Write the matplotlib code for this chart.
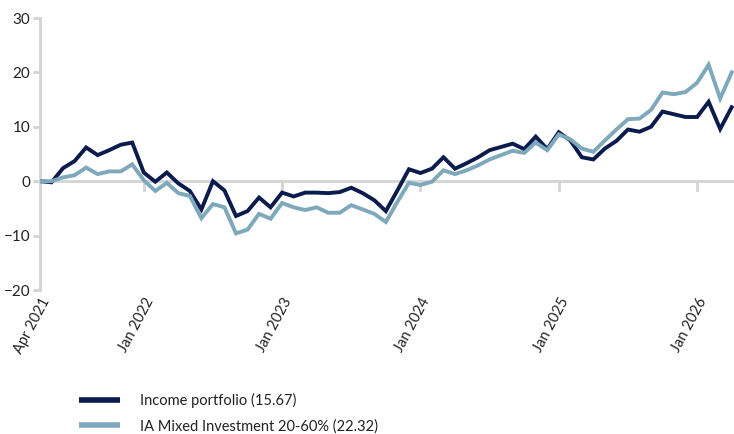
import matplotlib
matplotlib.use('Agg')
import matplotlib.pyplot as plt
import numpy as np

# monthly cumulative performance (%), Apr 2021 .. Apr 2026
income = [0.0, -0.2, 2.4, 3.7, 6.2, 4.8, 5.7, 6.7, 7.1, 1.6,
          -0.1, 1.6, -0.4, -1.8, -5.2, 0.0, -1.7, -6.4, -5.5, -3.0,
          -4.8, -2.1, -2.8, -2.1, -2.1, -2.2, -2.0, -1.2, -2.2, -3.5,
          -5.5, -1.7, 2.2, 1.5, 2.3, 4.4, 2.3, 3.3, 4.4, 5.7,
          6.3, 6.9, 5.9, 8.2, 5.9, 9.0, 7.5, 4.4, 4.0, 6.0,
          7.4, 9.5, 9.1, 10.0, 12.8, 12.3, 11.8, 11.8, 14.6, 9.6,
          13.6]
sector = [0.0, 0.0, 0.7, 1.1, 2.5, 1.3, 1.8, 1.8, 3.1, 0.2,
          -1.8, -0.3, -2.2, -2.7, -6.8, -4.2, -4.8, -9.6, -8.9, -6.0,
          -6.9, -4.0, -4.8, -5.3, -4.8, -5.8, -5.8, -4.4, -5.2, -6.0,
          -7.5, -3.8, -0.3, -0.7, -0.1, 2.0, 1.3, 2.0, 2.9, 4.0,
          4.8, 5.6, 5.2, 7.1, 5.7, 8.6, 7.7, 6.0, 5.4, 7.5,
          9.5, 11.4, 11.5, 13.1, 16.3, 16.0, 16.4, 18.1, 21.4, 15.2,
          20.0]
tick_pos = [0, 9, 21, 33, 45, 57]
tick_labels = ['Apr 2021', 'Jan 2022', 'Jan 2023', 'Jan 2024', 'Jan 2025', 'Jan 2026']
y_ticks = [30, 20, 10, 0, -10, -20]
names = ['Income portfolio (15.67)', 'IA Mixed Investment 20-60% (22.32)']

dark = '#0b1b4d'
light = '#7ea8bb'
grey = '#d4d4d4'
txt = '#222222'

plt.rcParams['font.family'] = ['Lato', 'DejaVu Sans']

fig = plt.figure(figsize=(7.34, 4.34), dpi=100)
ax = fig.add_axes([40 / 734, 144 / 434, 1 - 40 / 734, (290 - 18) / 434])

x = np.arange(len(income))
l1, = ax.plot(x, income, color=dark, lw=2.8, solid_joinstyle='miter', zorder=3)
l2, = ax.plot(x, sector, color=light, lw=2.8, solid_joinstyle='miter', zorder=3)

ax.set_xlim(0, 60.2)
ax.set_ylim(-20, 30)

# zero line with small year ticks hanging off it
ax.axhline(0, color=grey, lw=2, zorder=1)
for p in tick_pos[1:]:
    ax.plot([p, p], [0, -1.6], color=grey, lw=2, zorder=1)

for s in ['top', 'right', 'bottom']:
    ax.spines[s].set_visible(False)
ax.spines['left'].set_color(grey)
ax.spines['left'].set_linewidth(2)

ax.set_yticks(y_ticks)
ax.tick_params(axis='y', colors=grey, length=5, width=2, labelsize=11,
               labelcolor=txt, pad=2)

ax.set_xticks(tick_pos)
ax.set_xticklabels(tick_labels, rotation=62, ha='right', va='top',
                   rotation_mode='anchor', fontsize=10.5, color=txt)
ax.tick_params(axis='x', length=0, pad=4)

leg = fig.legend([l1, l2], names, loc='upper left', bbox_to_anchor=(66 / 734, 1 - 380 / 434),
                 frameon=False, fontsize=10.5, handlelength=2.8, handletextpad=1.35,
                 labelspacing=0.75, labelcolor=txt)
for h in leg.legend_handles:
    h.set_linewidth(4)
    h.set_solid_capstyle('butt')

fig.savefig('out.png', dpi=100)
